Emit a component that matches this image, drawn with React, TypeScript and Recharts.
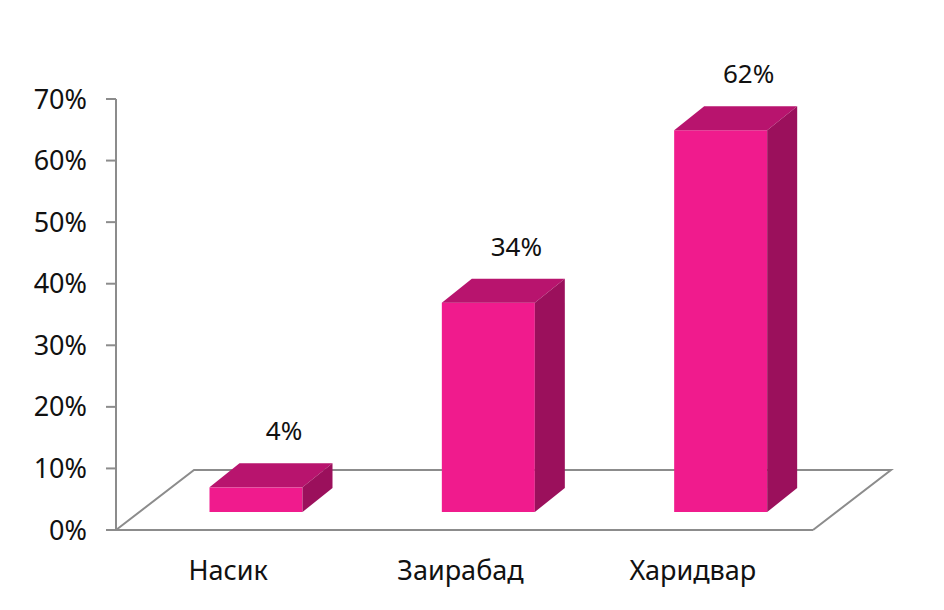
import { BarChart, Bar, XAxis, YAxis, LabelList, Customized } from 'recharts';

const CITIES = ['Насик', 'Заирабад', 'Харидвар'];
const SHARES = [4, 34, 62];
const Y_TICKS = [0, 10, 20, 30, 40, 50, 60, 70];

const data = CITIES.map((name, i) => ({ name, value: SHARES[i] }));

const FONT = '"Noto Sans", sans-serif';
const FRONT = '#F01B8D';
const TOP = '#B8146E';
const SIDE = '#9B105C';
const LINE = '#8C8C8C';

// plot box and the fake 3d depth
const LEFT = 116;
const RIGHT = 813;
const TOP_Y = 99;
const BOTTOM = 530;
const X_AXIS_H = 30;
const FLOOR_DX = 78;
const FLOOR_DY = 60;
const BAR_SHIFT_X = 23.5;
const BAR_SHIFT_Y = 18;
const DEPTH_X = 30;
const DEPTH_Y = 24;

const Floor = () => (
  <g>
    <polyline
      points={`${LEFT},${BOTTOM} ${LEFT + FLOOR_DX},${BOTTOM - FLOOR_DY} ${RIGHT + FLOOR_DX},${BOTTOM - FLOOR_DY} ${RIGHT},${BOTTOM}`}
      fill="none"
      stroke={LINE}
      strokeWidth={2}
    />
  </g>
);

const Bar3D = (props: any) => {
  const { x, y, width, height } = props;
  const x0 = x + BAR_SHIFT_X;
  const top = y - BAR_SHIFT_Y;
  const bottom = y + height - BAR_SHIFT_Y;
  const x1 = x0 + width;
  return (
    <g>
      <rect x={x0} y={top} width={width} height={bottom - top} fill={FRONT} />
      <polygon
        points={`${x0},${top} ${x1},${top} ${x1 + DEPTH_X},${top - DEPTH_Y} ${x0 + DEPTH_X},${top - DEPTH_Y}`}
        fill={TOP}
      />
      <polygon
        points={`${x1},${top} ${x1 + DEPTH_X},${top - DEPTH_Y} ${x1 + DEPTH_X},${bottom - DEPTH_Y} ${x1},${bottom}`}
        fill={SIDE}
      />
    </g>
  );
};

const ValueLabel = (props: any) => {
  const { x, y, width, value } = props;
  return (
    <text
      x={x + BAR_SHIFT_X + width / 2 + 28}
      y={y - BAR_SHIFT_Y - 47}
      textAnchor="middle"
      fontFamily={FONT}
      fontSize={26}
      fill="#111"
    >
      {value}%
    </text>
  );
};

const CityTick = (props: any) => {
  const { x, payload } = props;
  return (
    <text x={x - 4} y={BOTTOM + 50} textAnchor="middle" fontFamily={FONT} fontSize={27} fill="#111">
      {payload.value}
    </text>
  );
};

export default function App() {
  return (
    <div style={{ margin: -8 }}>
      <BarChart
        width={944}
        height={610}
        data={data}
        margin={{ top: TOP_Y, right: 944 - RIGHT, bottom: 610 - BOTTOM - X_AXIS_H, left: 0 }}
      >
        <Customized component={<Floor />} />
        <XAxis
          dataKey="name"
          height={X_AXIS_H}
          axisLine={{ stroke: LINE, strokeWidth: 2 }}
          tickLine={false}
          tick={<CityTick />}
        />
        <YAxis
          width={LEFT}
          domain={[0, 70]}
          ticks={Y_TICKS}
          interval={0}
          tickSize={10}
          axisLine={{ stroke: LINE, strokeWidth: 2 }}
          tickLine={{ stroke: LINE, strokeWidth: 2 }}
          tickFormatter={(v) => `${v}%`}
          tick={{ fontFamily: FONT, fontSize: 27, fill: '#111', dx: -17 }}
        />
        <Bar dataKey="value" barSize={93} shape={<Bar3D />} isAnimationActive={false}>
          <LabelList dataKey="value" content={<ValueLabel />} />
        </Bar>
      </BarChart>
    </div>
  );
}
